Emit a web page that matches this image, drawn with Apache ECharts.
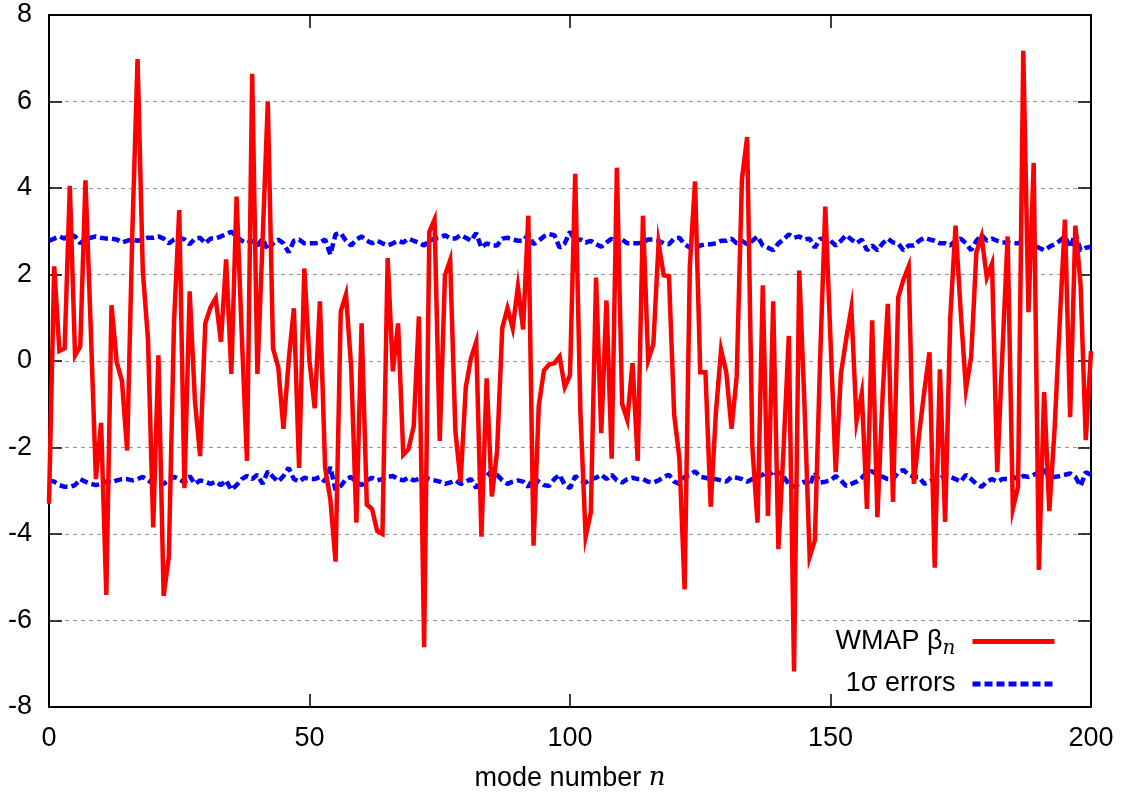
<!DOCTYPE html>
<html>
<head>
<meta charset="utf-8">
<script src="https://cdn.jsdelivr.net/npm/echarts@6/dist/echarts.min.js"></script>
<style>
  html, body { margin: 0; padding: 0; background: #fff; }
  #chart { width: 1135px; height: 793px; }
</style>
</head>
<body>
<div id="chart"></div>
<script>
// mode numbers 0..200
const modes = [];
for (let i = 0; i <= 200; i++) modes.push(i);

// WMAP beta_n
const beta = [
  -3.3, 2.19, 0.23, 0.29, 4.05, 0.13, 0.34, 4.18, 0.8, -2.73,
  -1.43, -5.41, 1.29, -0.03, -0.46, -2.07, 3.0, 6.98, 2.09, 0.5,
  -3.85, 0.13, -5.43, -4.53, 0.9, 3.49, -2.94, 1.61, -0.9, -2.2,
  0.87, 1.24, 1.45, 0.44, 2.35, -0.3, 3.8, 0.6, -2.31, 6.64,
  -0.3, 2.8, 6.0, 0.29, -0.14, -1.57, 0.0, 1.22, -2.47, 2.14,
  0.0, -1.09, 1.38, -2.47, -3.2, -4.64, 1.15, 1.54, -0.14, -3.74,
  0.87, -3.32, -3.42, -3.93, -4.0, 2.38, -0.24, 0.87, -2.17, -2.04,
  -1.51, 1.03, -6.62, 2.99, 3.27, -1.85, 1.98, 2.33, -1.62, -2.79,
  -0.61, 0.07, 0.44, -4.06, -0.4, -3.13, -2.1, 0.76, 1.22, 0.76,
  1.72, 0.73, 3.36, -4.27, -1.04, -0.22, -0.08, -0.05, 0.1, -0.6,
  -0.33, 4.33, -1.2, -4.06, -3.5, 1.93, -1.67, 1.4, -2.26, 4.47,
  -0.99, -1.36, -0.05, -2.31, 3.36, 0.02, 0.39, 2.72, 1.98, 1.96,
  -1.25, -2.26, -5.28, 2.19, 4.15, -0.26, -0.26, -3.37, -1.2, 0.26,
  -0.26, -1.57, -0.35, 4.2, 5.18, -1.99, -3.74, 1.75, -3.58, 1.38,
  -4.35, -2.0, 0.58, -7.18, 2.09, -1.0, -4.53, -4.14, 0.0, 3.57,
  0.5, -2.57, -0.3, 0.5, 1.22, -1.39, -0.75, -3.42, 0.94, -3.61,
  -0.8, 1.32, -3.26, 1.47, 1.88, 2.19, -2.84, -1.7, -0.7, 0.2,
  -4.78, -0.19, -3.72, 1.03, 3.13, 1.13, -0.65, 0.1, 2.51, 2.88,
  1.93, 2.25, -2.57, 0.2, 2.88, -3.42, -2.9, 7.17, 1.13, 4.58,
  -4.83, -0.72, -3.47, -1.6, 0.9, 3.27, -1.3, 3.13, 1.77, -1.83,
  0.23
];

// +1 sigma error band
const errUpper = [
  2.78, 2.83, 2.88, 2.83, 2.93, 2.88, 2.72, 2.83, 2.85, 2.88,
  2.85, 2.83, 2.83, 2.81, 2.74, 2.78, 2.81, 2.78, 2.81, 2.85,
  2.85, 2.88, 2.83, 2.72, 2.81, 2.85, 2.81, 2.70, 2.83, 2.85,
  2.72, 2.83, 2.83, 2.88, 2.93, 2.99, 2.88, 2.78, 2.72, 2.78,
  2.67, 2.83, 2.56, 2.72, 2.81, 2.72, 2.51, 2.78, 2.81, 2.72,
  2.72, 2.72, 2.74, 2.81, 2.46, 2.93, 2.96, 2.78, 2.67, 2.81,
  2.88, 2.78, 2.72, 2.78, 2.72, 2.67, 2.72, 2.78, 2.74, 2.83,
  2.78, 2.74, 2.67, 2.78, 2.83, 2.85, 2.91, 2.83, 2.83, 2.91,
  2.85, 2.78, 2.96, 2.62, 2.72, 2.67, 2.67, 2.83, 2.85, 2.81,
  2.78, 2.78, 2.93, 2.70, 2.78, 2.88, 2.93, 2.91, 2.62, 2.72,
  2.99, 2.78, 2.81, 2.74, 2.78, 2.70, 2.64, 2.74, 2.83, 2.67,
  2.81, 2.72, 2.72, 2.72, 2.74, 2.81, 2.81, 2.78, 2.72, 2.70,
  2.83, 2.85, 2.70, 2.62, 2.60, 2.67, 2.70, 2.70, 2.72, 2.78,
  2.78, 2.83, 2.72, 2.78, 2.70, 2.78, 2.88, 2.67, 2.62, 2.56,
  2.72, 2.81, 2.93, 2.85, 2.88, 2.81, 2.83, 2.62, 2.83, 2.81,
  2.78, 2.67, 2.78, 2.91, 2.81, 2.72, 2.81, 2.56, 2.67, 2.56,
  2.72, 2.83, 2.74, 2.72, 2.56, 2.67, 2.67, 2.78, 2.85, 2.81,
  2.78, 2.72, 2.72, 2.67, 2.78, 2.83, 2.72, 2.56, 2.78, 2.91,
  2.78, 2.83, 2.78, 2.74, 2.74, 2.72, 2.72, 2.78, 2.72, 2.67,
  2.62, 2.56, 2.64, 2.70, 2.78, 2.88, 2.62, 2.96, 2.56, 2.62,
  2.64
];

// -1 sigma error band
const errLower = [
  -2.76, -2.79, -2.87, -2.91, -2.91, -2.87, -2.73, -2.79, -2.84, -2.87,
  -2.84, -2.79, -2.81, -2.76, -2.73, -2.73, -2.76, -2.73, -2.68, -2.76,
  -2.84, -2.84, -2.84, -2.76, -2.68, -2.73, -2.81, -2.66, -2.84, -2.76,
  -2.79, -2.84, -2.79, -2.87, -2.76, -2.98, -2.87, -2.73, -2.66, -2.73,
  -2.63, -2.84, -2.55, -2.68, -2.79, -2.66, -2.47, -2.73, -2.79, -2.70,
  -2.73, -2.73, -2.68, -2.79, -2.45, -2.98, -2.89, -2.73, -2.68, -2.81,
  -2.87, -2.76, -2.70, -2.76, -2.73, -2.68, -2.66, -2.73, -2.76, -2.70,
  -2.76, -2.73, -2.68, -2.73, -2.76, -2.79, -2.84, -2.81, -2.76, -2.84,
  -2.79, -2.73, -2.94, -2.63, -2.57, -2.68, -2.63, -2.76, -2.84, -2.79,
  -2.76, -2.79, -2.91, -2.70, -2.79, -2.87, -2.89, -2.73, -2.63, -2.87,
  -2.94, -2.66, -2.76, -2.81, -2.73, -2.70, -2.63, -2.73, -2.63, -2.76,
  -2.81, -2.73, -2.70, -2.73, -2.73, -2.79, -2.81, -2.76, -2.68, -2.63,
  -2.79, -2.84, -2.68, -2.63, -2.55, -2.68, -2.70, -2.73, -2.73, -2.76,
  -2.79, -2.68, -2.70, -2.73, -2.79, -2.73, -2.68, -2.63, -2.52, -2.68,
  -2.57, -2.68, -2.84, -2.91, -2.84, -2.79, -2.89, -2.57, -2.81, -2.79,
  -2.76, -2.66, -2.76, -2.89, -2.84, -2.79, -2.70, -2.57, -2.55, -2.63,
  -2.68, -2.73, -2.73, -2.57, -2.52, -2.63, -2.68, -2.68, -2.84, -2.79,
  -2.73, -2.73, -2.63, -2.68, -2.73, -2.79, -2.63, -2.73, -2.84, -2.91,
  -2.79, -2.73, -2.79, -2.73, -2.73, -2.68, -2.73, -2.66, -2.68, -2.63,
  -2.57, -2.52, -2.68, -2.68, -2.66, -2.63, -2.60, -2.68, -2.89, -2.57,
  -2.63
];

const xTicks = [0, 50, 100, 150, 200];
const yTicks = [-8, -6, -4, -2, 0, 2, 4, 6, 8];

const FONT = 'Liberation Sans';

function pairs(ys) {
  return ys.map((y, i) => [modes[i], y]);
}

let chart = echarts.init(document.getElementById('chart'), null, { renderer: 'canvas' });

const frameAxisX = {
  type: 'value', min: 0, max: 200, interval: 50,
  axisLine: { show: true, onZero: false, lineStyle: { color: '#000', width: 2 } },
  axisTick: { show: true, inside: true, length: 13, lineStyle: { color: '#000', width: 1.5 } },
  splitLine: { show: false }
};
const frameAxisY = {
  type: 'value', min: -8, max: 8, interval: 2,
  axisLine: { show: true, onZero: false, lineStyle: { color: '#000', width: 2 } },
  axisTick: { show: true, inside: true, length: 13, lineStyle: { color: '#000', width: 1.5 } }
};

let option = {
  animation: false,
  backgroundColor: '#fff',
  grid: { left: 49, right: 44, top: 15, bottom: 86, containLabel: false, outerBoundsMode: 'none' },
  xAxis: [
    Object.assign({}, frameAxisX, {
      position: 'bottom',
      axisLabel: {
        color: '#000', fontFamily: FONT, fontSize: 27, margin: 18,
        formatter: v => (xTicks.indexOf(v) >= 0 ? String(v) : '')
      },
      name: 'mode number {i|n}',
      nameLocation: 'middle',
      nameGap: 58,
      nameTextStyle: {
        color: '#000', fontFamily: FONT, fontSize: 27,
        rich: { i: { fontFamily: 'DejaVu Serif', fontStyle: 'italic', fontSize: 26, color: '#000' } }
      }
    }),
    Object.assign({}, frameAxisX, { position: 'top', axisLabel: { show: false } })
  ],
  yAxis: [
    Object.assign({}, frameAxisY, {
      position: 'left',
      axisLabel: {
        color: '#000', fontFamily: FONT, fontSize: 27, margin: 17,
        formatter: v => (yTicks.indexOf(v) >= 0 ? String(v) : '')
      },
      splitLine: { show: true, lineStyle: { color: '#999', width: 1, type: [4, 4] } }
    }),
    Object.assign({}, frameAxisY, { position: 'right', axisLabel: { show: false }, splitLine: { show: false } })
  ],
  legend: {
    orient: 'vertical',
    right: 78,
    top: 628,
    padding: 0,
    align: 'right',
    itemWidth: 82,
    itemHeight: 20,
    itemGap: 12,
    data: ['WMAP beta', '1σ errors'],
    itemStyle: { opacity: 0 },
    lineStyle: { width: 5 },
    formatter: function (name) {
      if (name === 'WMAP beta') return 'WMAP β{s|n}';
      return name;
    },
    textStyle: {
      color: '#000', fontFamily: FONT, fontSize: 27, padding: [0, 12, 0, 0],
      rich: {
        s: { fontFamily: 'DejaVu Serif', fontStyle: 'italic', fontSize: 20, color: '#000', padding: [14, 0, 0, 0] }
      }
    }
  },
  series: [
    {
      name: '1σ errors',
      type: 'line',
      data: pairs(errUpper),
      symbol: 'none',
      z: 3,
      lineStyle: { color: '#0000ff', width: 4.5, type: [8, 4] },
      itemStyle: { color: '#0000ff' }
    },
    {
      name: '1σ errors',
      type: 'line',
      data: pairs(errLower),
      symbol: 'none',
      z: 3,
      lineStyle: { color: '#0000ff', width: 4.5, type: [8, 4] },
      itemStyle: { color: '#0000ff' }
    },
    {
      name: 'WMAP beta',
      type: 'line',
      data: pairs(beta),
      symbol: 'none',
      z: 4,
      lineStyle: { color: '#ff0000', width: 4.5, join: 'miter' },
      itemStyle: { color: '#ff0000' }
    }
  ]
};

chart.setOption(option);
</script>
</body>
</html>
